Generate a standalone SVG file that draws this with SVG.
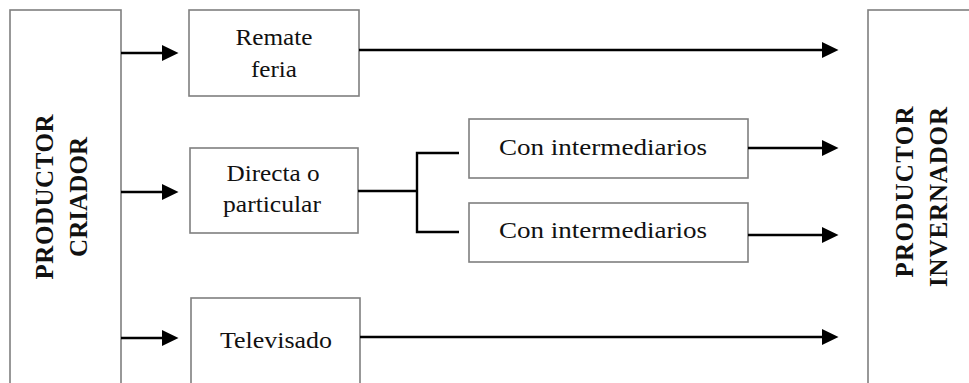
<svg xmlns="http://www.w3.org/2000/svg" width="969" height="383" viewBox="0 0 969 383">
<defs>
<style>
.box{fill:#fff;stroke:#7f7f7f;stroke-width:1.6}
.t{font-family:"Liberation Serif","Times New Roman",serif;font-size:24px;fill:#111;text-anchor:middle}
.v{font-family:"Liberation Serif","Times New Roman",serif;font-size:25px;font-weight:bold;fill:#111;text-anchor:middle}
.c{stroke:#000;stroke-width:2.4;fill:none}
</style>
<marker id="ah" markerWidth="17" markerHeight="16" refX="6" refY="8" orient="auto" markerUnits="userSpaceOnUse">
<path d="M0,0 L16.5,8 L0,16 Z" fill="#000"/>
</marker>
</defs>
<rect width="969" height="383" fill="#fff"/>
<g id="productor-criador">
<rect class="box" x="10" y="10" width="111" height="400"/>
<text class="v" transform="translate(53,197) rotate(-90)" textLength="165" lengthAdjust="spacing">PRODUCTOR</text>
<text class="v" transform="translate(87,197) rotate(-90)" textLength="120" lengthAdjust="spacing">CRIADOR</text>
</g>
<g id="productor-invernador">
<rect class="box" x="868" y="10" width="200" height="400"/>
<text class="v" transform="translate(913,192) rotate(-90)" textLength="171" lengthAdjust="spacing">PRODUCTOR</text>
<text class="v" transform="translate(947,197) rotate(-90)" textLength="180" lengthAdjust="spacing">INVERNADOR</text>
</g>
<g id="remate-feria">
<rect class="box" x="189" y="10" width="170" height="86"/>
<text class="t" x="274" y="45" textLength="77" lengthAdjust="spacingAndGlyphs">Remate</text>
<text class="t" x="274" y="77" textLength="46" lengthAdjust="spacingAndGlyphs">feria</text>
</g>
<g id="directa">
<rect class="box" x="190" y="148" width="168" height="85"/>
<text class="t" x="273" y="181" textLength="93" lengthAdjust="spacingAndGlyphs">Directa o</text>
<text class="t" x="272" y="212" textLength="98" lengthAdjust="spacingAndGlyphs">particular</text>
</g>
<g id="televisado">
<rect class="box" x="191" y="298" width="169" height="120"/>
<text class="t" x="276" y="348" textLength="112" lengthAdjust="spacingAndGlyphs">Televisado</text>
</g>
<g id="con-intermediarios-1">
<rect class="box" x="469" y="119" width="279" height="59"/>
<text class="t" x="603" y="155" textLength="208" lengthAdjust="spacingAndGlyphs">Con intermediarios</text>
</g>
<g id="con-intermediarios-2">
<rect class="box" x="469" y="203" width="279" height="59"/>
<text class="t" x="603" y="238" textLength="208" lengthAdjust="spacingAndGlyphs">Con intermediarios</text>
</g>
<g id="connectors">
<line class="c" x1="121" y1="53" x2="168" y2="53" marker-end="url(#ah)"/>
<line class="c" x1="121" y1="192" x2="168" y2="192" marker-end="url(#ah)"/>
<line class="c" x1="121" y1="338" x2="168" y2="338" marker-end="url(#ah)"/>
<line class="c" x1="359" y1="50" x2="828" y2="50" marker-end="url(#ah)"/>
<line class="c" x1="748" y1="148" x2="828" y2="148" marker-end="url(#ah)"/>
<line class="c" x1="748" y1="235" x2="828" y2="235" marker-end="url(#ah)"/>
<line class="c" x1="360" y1="337" x2="828" y2="337" marker-end="url(#ah)"/>
<line class="c" x1="358" y1="191" x2="418" y2="191"/>
<polyline class="c" points="459,153 417,153 417,232 459,232"/>
</g>
</svg>
